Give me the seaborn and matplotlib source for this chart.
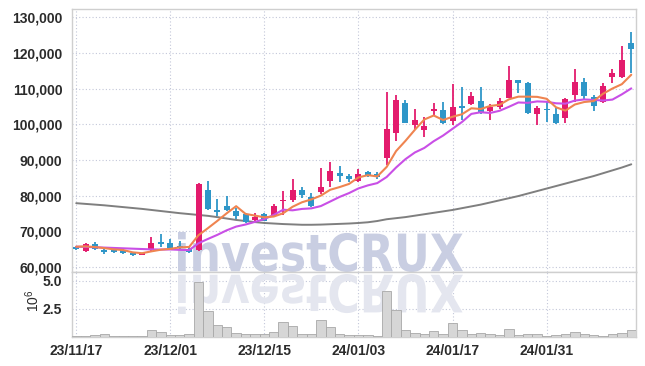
import numpy as np
import pandas as pd
import matplotlib
matplotlib.use("Agg")
import matplotlib.pyplot as plt
import seaborn as sns
from matplotlib.textpath import TextPath
from matplotlib.patches import PathPatch
from matplotlib.font_manager import FontProperties
from matplotlib.transforms import Affine2D
from matplotlib.ticker import FuncFormatter

dates = ["23/11/17", "23/11/20", "23/11/21", "23/11/22", "23/11/23", "23/11/24", "23/11/27", "23/11/28", "23/11/29", "23/11/30",
         "23/12/01", "23/12/04", "23/12/05", "23/12/06", "23/12/07", "23/12/08", "23/12/11", "23/12/12", "23/12/13", "23/12/14",
         "23/12/15", "23/12/18", "23/12/19", "23/12/20", "23/12/21", "23/12/22", "23/12/26", "23/12/27", "23/12/28", "24/01/02",
         "24/01/03", "24/01/04", "24/01/05", "24/01/08", "24/01/09", "24/01/10", "24/01/11", "24/01/12", "24/01/15", "24/01/16",
         "24/01/17", "24/01/18", "24/01/19", "24/01/22", "24/01/23", "24/01/24", "24/01/25", "24/01/26", "24/01/29", "24/01/30",
         "24/01/31", "24/02/01", "24/02/02", "24/02/05", "24/02/06", "24/02/07", "24/02/08", "24/02/13", "24/02/14", "24/02/15"]

opens = [65500, 64400, 66500, 64800, 64700, 64700, 64000, 63400, 64700, 67100,
         66700, 65900, 65000, 64700, 81500, 76100, 77200, 75800, 74900, 73300,
         74800, 74200, 78500, 78800, 81600, 79500, 80900, 84000, 86300, 85400,
         84000, 86600, 86100, 90700, 97700, 106000, 99800, 98300, 103800, 104000,
         100800, 104900, 105600, 106600, 103600, 104800, 107500, 112400, 111700, 102800,
         104200, 102900, 101700, 108200, 111900, 107600, 106400, 113400, 113200, 122700]
highs = [65800, 66700, 67000, 65000, 65000, 65100, 64200, 64000, 68300, 69200,
         67800, 67300, 65500, 83500, 84100, 79000, 79800, 76500, 75200, 75200,
         75200, 77700, 81200, 84700, 82500, 80700, 87700, 89400, 88200, 86000,
         87400, 87000, 86600, 109000, 108200, 106800, 104400, 102100, 106100, 106200,
         111200, 110400, 109000, 110600, 105600, 107300, 116400, 112500, 112000, 105200,
         106500, 104600, 107500, 115400, 113100, 108200, 111700, 115600, 122000, 125800]
lows = [64800, 64300, 64900, 63600, 64000, 63700, 63100, 63300, 64500, 65700,
        65000, 64800, 64000, 64500, 76000, 74300, 75800, 73500, 72300, 72800,
        72800, 74000, 74600, 78300, 79300, 76800, 80500, 82300, 83800, 83700,
        83700, 85200, 84700, 88700, 95200, 100300, 98700, 96400, 102400, 100200,
        99800, 101200, 105300, 103000, 101200, 104400, 107300, 108900, 103000, 99800,
        100600, 100000, 100300, 106400, 106700, 103800, 106000, 111700, 113000, 114300]
closes = [65000, 66500, 65000, 64100, 64200, 64000, 63300, 63800, 66700, 66500,
          65200, 65400, 64300, 83300, 76300, 75400, 76100, 74200, 72500, 73900,
          73000, 77200, 78800, 81600, 80200, 77000, 82500, 87000, 85400, 84600,
          86100, 85700, 85200, 98700, 106800, 100500, 101200, 99600, 104300, 100500,
          105000, 104700, 108000, 103300, 104800, 106600, 112400, 111700, 103300, 104500,
          103900, 100500, 107000, 111900, 108000, 105200, 110800, 114300, 118000, 121200]
volume_m = [0.08, 0.10, 0.17, 0.22, 0.05, 0.05, 0.05, 0.05, 0.60, 0.40,
            0.15, 0.15, 0.22, 4.87, 2.30, 1.00, 0.83, 0.36, 0.28, 0.28,
            0.28, 0.44, 1.30, 0.97, 0.22, 0.28, 1.47, 0.90, 0.28, 0.14,
            0.19, 0.19, 0.08, 4.10, 2.42, 0.56, 0.36, 0.28, 0.50, 0.22,
            1.25, 0.61, 0.28, 0.36, 0.22, 0.14, 0.70, 0.14, 0.28, 0.22,
            0.10, 0.19, 0.22, 0.44, 0.22, 0.14, 0.10, 0.22, 0.36, 0.61]
ma5 = [65700, 65800, 65600, 65300, 64960, 64760, 64120, 63880, 64400, 64860,
       65100, 65520, 65620, 68940, 70900, 72940, 75080, 77060, 74900, 74420,
       73940, 74160, 75080, 76900, 78160, 78960, 80020, 81660, 82420, 83300,
       85120, 85760, 85400, 88060, 92500, 95380, 98480, 101360, 102480, 101220,
       102120, 102820, 104500, 104300, 105160, 105480, 107020, 107760, 107760, 107700,
       107160, 104780, 103840, 105560, 106260, 106520, 108580, 110040, 111260, 113900]
ma10 = [65700, 65650, 65550, 65450, 65350, 65250, 65150, 65050, 64950, 64910,
        64930, 64820, 64750, 66670, 67880, 69020, 70300, 71340, 71920, 72660,
        73440, 74620, 76070, 75900, 76290, 76450, 77090, 78370, 79660, 80730,
        82040, 82890, 83530, 85240, 87900, 90250, 92120, 93380, 95270, 96860,
        98750, 100650, 102930, 103390, 103190, 103800, 104920, 106130, 106030, 106430,
        106320, 105900, 105800, 106660, 106980, 106840, 106680, 106940, 108410, 110080]
ma_long = [77900, 77700, 77500, 77300, 77050, 76800, 76550, 76300, 76000, 75700,
           75400, 75100, 74850, 74600, 74350, 74000, 73600, 73200, 72900, 72600,
           72350, 72200, 72050, 71950, 71850, 71850, 71900, 72000, 72100, 72200,
           72350, 72550, 72900, 73400, 73700, 74000, 74400, 74800, 75200, 75600,
           76000, 76500, 77000, 77500, 78100, 78700, 79300, 79900, 80600, 81300,
           82000, 82700, 83400, 84100, 84800, 85500, 86300, 87100, 87900, 88800]
tick_labels = ["23/11/17", "23/12/01", "23/12/15", "24/01/03", "24/01/17", "24/01/31"]

UP = "#e31b6d"
DOWN = "#2e96c8"
GRID = "#c3c7d9"
SPINE = "#cfcfcf"

sns.set_theme(style="white")
plt.rcParams["font.family"] = ["Liberation Sans Narrow", "Liberation Sans", "DejaVu Sans"]
plt.rcParams["font.weight"] = "bold"
plt.rcParams["mathtext.default"] = "regular"

df = pd.DataFrame({"date": dates, "open": opens, "high": highs, "low": lows,
                   "close": closes, "vol": volume_m, "ma5": ma5, "ma10": ma10,
                   "ma_long": ma_long})
df["pos"] = np.arange(len(df))
df["up"] = df["close"] >= df["open"]
colors = np.where(df["up"], UP, DOWN)

fig = plt.figure(figsize=(6.45, 3.66), dpi=100)
ax = fig.add_axes([0.1116, 0.2577, 0.8744, 0.7177])
axv = fig.add_axes([0.1116, 0.0801, 0.8744, 0.1767])

# watermark
fp = FontProperties(family="DejaVu Sans", weight="bold")
tp = TextPath((0, 0), "investCRUX", size=100, prop=fp)
ext = tp.get_extents()
sx = 285 / ext.width
sy = 40 / ext.height
tr_main = Affine2D().translate(-ext.x0, -ext.y0).scale(sx, sy).translate(178, 94)
tr_refl = Affine2D().translate(-ext.x0, -ext.y0).scale(sx, -sy).translate(178, 92)
wm = PathPatch(tp, transform=tr_main, facecolor="#c9cee2", edgecolor="none", zorder=0.6, clip_on=False)
ax.add_patch(wm)
wr = PathPatch(tp, transform=tr_refl, facecolor="#e4e6ef", edgecolor="none", zorder=0.6, clip_on=False)
axv.add_patch(wr)

# candles
ax.vlines(df["pos"], df["low"], df["high"], colors=colors, linewidth=1.3, zorder=3)
body_bottom = np.minimum(df["open"], df["close"])
body_h = np.maximum(np.abs(df["close"] - df["open"]), 350)
ax.bar(df["pos"], body_h, bottom=body_bottom, width=0.64, color=colors, zorder=4, linewidth=0)

# moving averages
sns.lineplot(data=df, x="pos", y="ma_long", ax=ax, color="#7f7f7f", linewidth=1.4, zorder=2)
sns.lineplot(data=df, x="pos", y="ma10", ax=ax, color="#c94fe6", linewidth=1.5, zorder=5)
sns.lineplot(data=df, x="pos", y="ma5", ax=ax, color="#ef8450", linewidth=1.5, zorder=6)

# volume
sns.barplot(data=df, x="pos", y="vol", ax=axv, native_scale=True, color="#d6d6d6",
            edgecolor="#a8a8a8", linewidth=0.6, width=1.0, zorder=3, saturation=1)

tick_pos = [dates.index(t) for t in tick_labels]
for a in (ax, axv):
    a.set_xlim(-0.45, 59.5)
    a.set_xticks(tick_pos)
    a.grid(True, color=GRID, linestyle=(0, (1, 2)), linewidth=0.8)
    a.set_axisbelow(True)
    a.set_xlabel("")
    a.set_ylabel("")
    for s in a.spines.values():
        s.set_color(SPINE)
        s.set_linewidth(1.0)
    a.tick_params(length=0, labelsize=10, labelcolor="#2b2b2b", pad=7)

ax.set_ylim(58700, 132330)
ax.set_yticks(np.arange(60000, 130001, 10000))
ax.yaxis.set_major_formatter(FuncFormatter(lambda v, p: f"{int(v):,}"))
ax.tick_params(labelbottom=False)

axv.set_ylim(0, 5.78)
axv.set_yticks([2.5, 5.0])
axv.set_yticklabels(["2.5", "5.0"])
axv.set_xticklabels(tick_labels)
axv.tick_params(axis="x", pad=5)

fig.text(0.051, 0.178, "10$^6$", rotation=90, ha="center", va="center",
         fontsize=10, color="#2b2b2b", fontweight="normal")

fig.savefig("out.png", dpi=100)
